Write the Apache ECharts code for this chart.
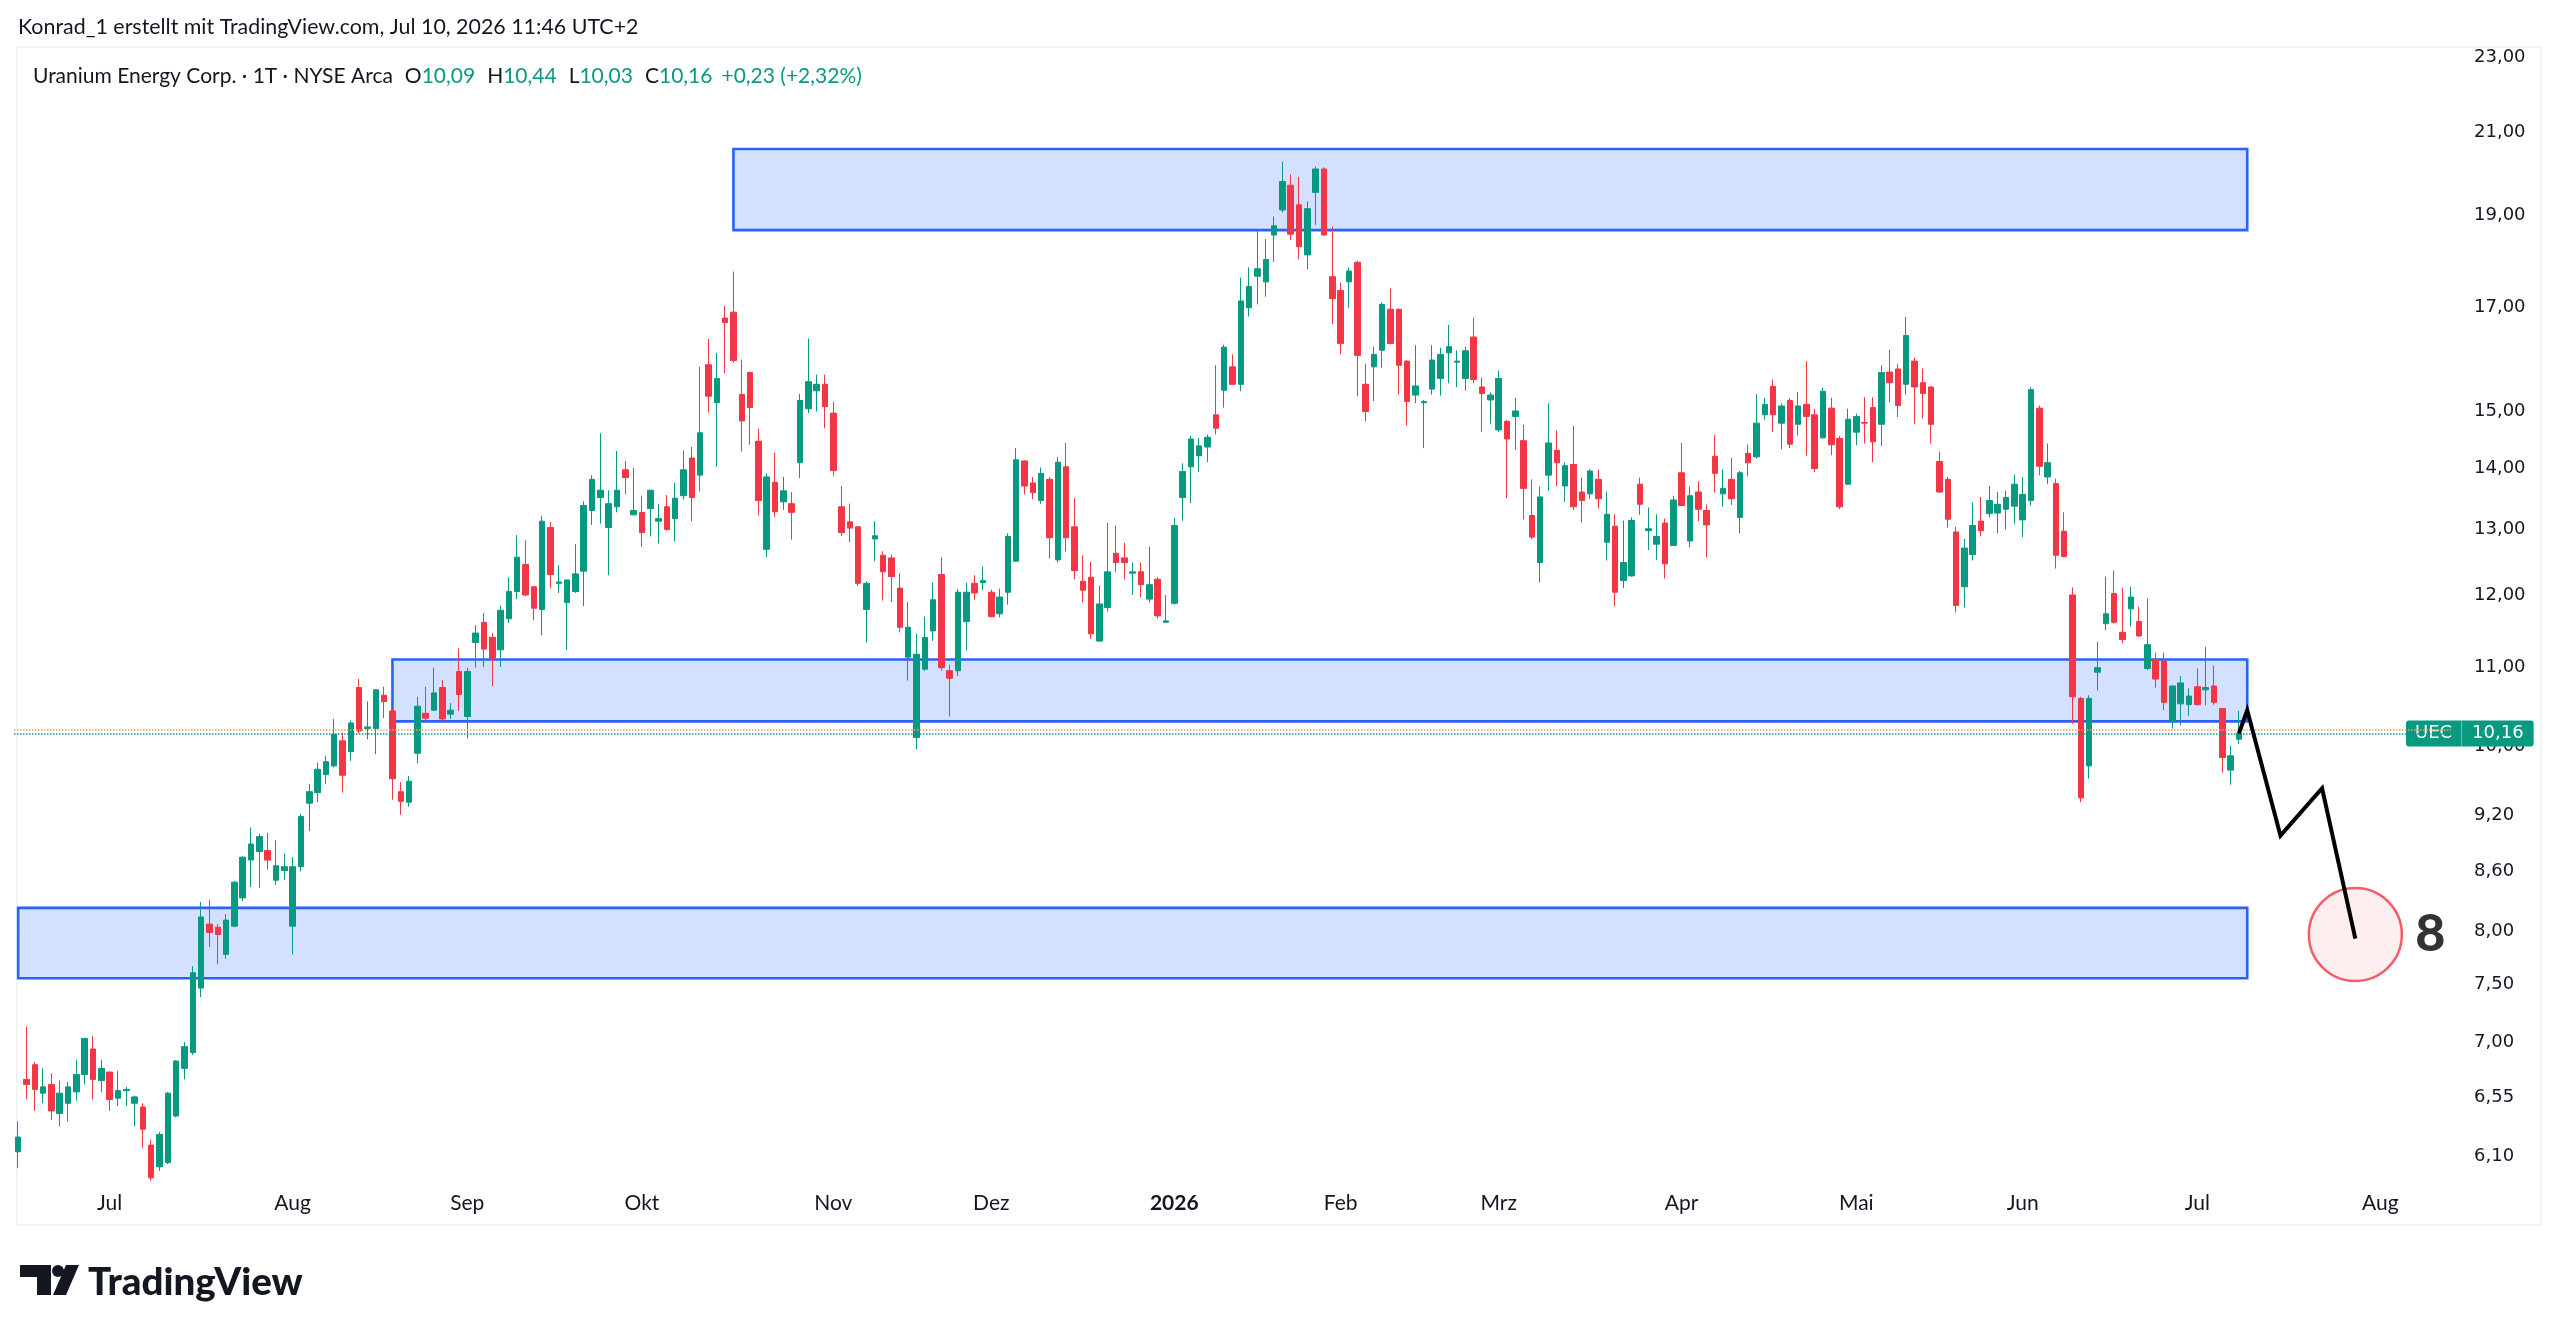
<!DOCTYPE html>
<html>
<head>
<meta charset="utf-8">
<script src="https://cdn.jsdelivr.net/npm/echarts@6/dist/echarts.min.js"></script>
<style>
  html, body { margin: 0; padding: 0; background: #fff; }
  #chart { width: 2560px; height: 1334px; }
</style>
</head>
<body>
<div id="chart"></div>
<script>
// daily candles, each row [open, high, low, close]
const jun25 = [
  [6.13, 6.36, 6.01, 6.24], [6.69, 7.13, 6.53, 6.65], [6.81, 6.83, 6.44, 6.61], [6.58, 6.78, 6.50, 6.63],
  [6.65, 6.74, 6.37, 6.44], [6.42, 6.68, 6.32, 6.58], [6.50, 6.67, 6.36, 6.63], [6.59, 6.85, 6.52, 6.73],
  [6.73, 7.03, 6.65, 7.03], [6.94, 7.05, 6.53, 6.69], [6.68, 6.85, 6.59, 6.78]
]
const jul25 = [
  [6.75, 6.75, 6.44, 6.53], [6.54, 6.76, 6.48, 6.60], [6.60, 6.63, 6.48, 6.61], [6.50, 6.56, 6.32, 6.55],
  [6.47, 6.50, 6.16, 6.30], [6.18, 6.22, 5.92, 5.94], [6.02, 6.28, 5.99, 6.26], [6.05, 6.59, 6.04, 6.58],
  [6.40, 6.85, 6.39, 6.84], [6.78, 7.00, 6.69, 6.96], [6.91, 7.67, 6.89, 7.61], [7.47, 8.29, 7.39, 8.14],
  [8.07, 8.31, 7.85, 7.99], [8.04, 8.07, 7.69, 7.97], [7.78, 8.17, 7.74, 8.11], [8.05, 8.50, 8.04, 8.49],
  [8.33, 8.76, 8.30, 8.75], [8.72, 9.07, 8.44, 8.89], [8.81, 9.00, 8.43, 8.97], [8.82, 9.01, 8.62, 8.72],
  [8.51, 8.93, 8.46, 8.66], [8.61, 8.79, 8.51, 8.65]
]
const aug25 = [
  [8.05, 8.75, 7.78, 8.65], [8.65, 9.22, 8.60, 9.19], [9.34, 9.56, 9.03, 9.47], [9.46, 9.81, 9.35, 9.73],
  [9.67, 9.89, 9.56, 9.82], [9.77, 10.34, 9.75, 10.15], [10.07, 10.17, 9.46, 9.66], [9.94, 10.32, 9.83, 10.29],
  [10.74, 10.85, 10.16, 10.19], [10.22, 10.56, 10.09, 10.24], [10.22, 10.72, 9.91, 10.71], [10.64, 10.75, 10.35, 10.56],
  [10.44, 10.47, 9.38, 9.62], [9.47, 9.58, 9.21, 9.36], [9.35, 9.65, 9.30, 9.59], [9.92, 10.62, 9.80, 10.50],
  [10.41, 10.75, 10.29, 10.35], [10.45, 11.00, 10.44, 10.67], [10.74, 10.84, 10.31, 10.34], [10.40, 10.54, 10.34, 10.45],
  [10.95, 11.26, 10.44, 10.65]
]
const sep25 = [
  [10.37, 11.00, 10.10, 10.95], [11.34, 11.58, 11.00, 11.47], [11.62, 11.75, 11.01, 11.25], [11.41, 11.47, 10.76, 11.13],
  [11.24, 11.86, 11.01, 11.79], [11.67, 12.27, 11.61, 12.06], [12.06, 12.91, 11.95, 12.57], [12.46, 12.83, 11.99, 12.01],
  [12.13, 12.14, 11.65, 11.82], [11.80, 13.21, 11.44, 13.13], [13.03, 13.12, 12.11, 12.31], [12.18, 12.45, 12.04, 12.20],
  [11.90, 12.23, 11.24, 12.23], [12.06, 12.77, 12.04, 12.32], [12.36, 13.45, 11.85, 13.38], [13.30, 13.88, 13.07, 13.81],
  [13.51, 14.60, 13.09, 13.63], [13.03, 13.63, 12.30, 13.41], [13.36, 14.29, 13.27, 13.63], [13.97, 14.12, 13.56, 13.84],
  [13.23, 14.00, 13.23, 13.30]
]
const oct25 = [
  [13.27, 13.54, 12.73, 12.95], [13.33, 13.63, 12.89, 13.63], [13.13, 13.41, 12.78, 13.17], [13.36, 13.55, 12.98, 13.00],
  [13.17, 13.75, 12.81, 13.50], [13.54, 14.30, 13.48, 13.97], [14.17, 14.36, 13.13, 13.51], [13.88, 15.82, 13.61, 14.61],
  [15.86, 16.36, 14.97, 15.27], [15.15, 16.09, 14.02, 15.60], [16.78, 17.03, 15.70, 16.69], [16.90, 17.75, 15.90, 15.94],
  [15.30, 15.96, 14.28, 14.82], [15.71, 15.73, 14.40, 15.06], [14.46, 14.68, 13.22, 13.46], [12.69, 13.91, 12.57, 13.85],
  [13.76, 14.26, 13.20, 13.28], [13.44, 13.85, 13.31, 13.62], [13.41, 13.60, 12.84, 13.27], [14.09, 15.31, 13.83, 15.19],
  [15.04, 16.37, 14.96, 15.54], [15.37, 15.67, 14.99, 15.49], [15.49, 15.67, 14.69, 15.08]
]
const nov25 = [
  [14.96, 15.17, 13.87, 13.96], [13.36, 13.70, 12.90, 12.95], [13.12, 13.41, 12.80, 13.02], [13.04, 13.05, 12.14, 12.18],
  [11.80, 12.21, 11.34, 12.18], [12.85, 13.13, 12.51, 12.90], [12.60, 12.66, 11.93, 12.35], [12.56, 12.61, 11.91, 12.28],
  [12.11, 12.33, 11.48, 11.55], [11.14, 11.91, 10.83, 11.55], [10.11, 11.46, 9.97, 11.18], [10.98, 11.70, 10.96, 11.41],
  [11.50, 12.19, 11.36, 11.94], [12.31, 12.57, 10.96, 11.00], [10.96, 11.04, 10.37, 10.86], [10.96, 12.10, 10.89, 12.05],
  [11.63, 12.19, 11.23, 12.05], [12.18, 12.30, 11.94, 12.04], [12.19, 12.43, 12.08, 12.22]
]
const dec25 = [
  [12.05, 12.09, 11.69, 11.70], [11.74, 12.10, 11.69, 11.98], [12.05, 12.94, 11.87, 12.89], [12.51, 14.34, 12.50, 14.14],
  [14.12, 14.13, 13.56, 13.70], [13.75, 13.85, 13.48, 13.59], [13.46, 14.01, 13.41, 13.91], [13.81, 13.85, 12.55, 12.87],
  [12.53, 14.19, 12.49, 14.10], [14.02, 14.43, 12.66, 12.87], [13.04, 13.50, 12.24, 12.37], [12.21, 12.60, 11.90, 12.08],
  [12.27, 12.50, 11.39, 11.46], [11.36, 12.15, 11.35, 11.88], [11.83, 13.10, 11.77, 12.35], [12.63, 13.06, 12.35, 12.49],
  [12.56, 12.79, 12.24, 12.49], [12.33, 12.49, 12.01, 12.35], [12.35, 12.49, 11.98, 12.16], [11.95, 12.73, 11.90, 12.16],
  [12.24, 12.27, 11.67, 11.71], [11.62, 12.01, 11.62, 11.64]
]
const jan26 = [
  [11.89, 13.18, 11.87, 13.06], [13.51, 14.08, 13.14, 13.94], [14.02, 14.55, 13.42, 14.50], [14.21, 14.52, 13.93, 14.38],
  [14.36, 14.58, 14.10, 14.53], [14.93, 15.85, 14.58, 14.69], [15.38, 16.25, 15.06, 16.20], [15.82, 16.06, 15.48, 15.49],
  [15.49, 17.62, 15.36, 17.13], [16.99, 17.84, 16.81, 17.43], [17.65, 18.64, 17.06, 17.81], [17.53, 18.46, 17.22, 18.01],
  [18.55, 18.97, 17.96, 18.76], [19.12, 20.27, 19.06, 19.79], [19.70, 19.96, 18.44, 18.57], [19.24, 19.90, 18.01, 18.29],
  [18.11, 19.32, 17.80, 19.15], [19.53, 20.15, 18.78, 20.09], [20.09, 20.13, 18.54, 18.55], [17.64, 18.74, 16.66, 17.18]
]
const feb26 = [
  [17.35, 17.51, 16.06, 16.27], [17.53, 17.84, 16.99, 17.76], [17.95, 17.98, 15.27, 16.04], [15.49, 15.88, 14.81, 14.99],
  [15.82, 16.21, 15.18, 16.06], [16.14, 17.10, 15.80, 17.06], [16.96, 17.39, 16.26, 16.27], [16.96, 16.97, 15.30, 15.85],
  [15.93, 15.95, 14.74, 15.17], [15.29, 16.24, 15.14, 15.46], [15.15, 15.20, 14.34, 15.17], [15.40, 16.24, 15.30, 15.95],
  [15.60, 16.19, 15.28, 16.06], [16.09, 16.64, 15.51, 16.21], [15.91, 16.14, 15.44, 15.93], [15.60, 16.21, 15.37, 16.13],
  [16.40, 16.79, 15.51, 15.58], [15.44, 15.62, 14.62, 15.32], [15.20, 15.34, 14.77, 15.29]
]
const mar26 = [
  [14.66, 15.75, 14.62, 15.60], [14.81, 14.84, 13.50, 14.50], [14.90, 15.24, 14.31, 15.00], [14.47, 14.75, 13.16, 13.66],
  [13.22, 13.81, 12.85, 12.88], [12.49, 13.69, 12.19, 13.52], [13.88, 15.14, 13.62, 14.43], [14.30, 14.65, 13.70, 14.09],
  [13.70, 14.09, 13.44, 14.04], [14.06, 14.73, 13.31, 13.36], [13.60, 13.84, 13.11, 13.46], [13.57, 13.98, 13.49, 13.95],
  [13.81, 13.97, 13.33, 13.49], [12.80, 13.61, 12.52, 13.24], [13.05, 13.24, 11.85, 12.05], [12.22, 13.14, 12.11, 12.49],
  [12.29, 13.19, 12.28, 13.14], [13.73, 13.84, 13.23, 13.40], [12.98, 13.35, 12.68, 13.01], [12.77, 13.24, 12.53, 12.89],
  [13.10, 13.17, 12.25, 12.47], [12.75, 13.54, 12.74, 13.47]
]
const apr26 = [
  [13.92, 14.43, 13.37, 13.38], [12.82, 13.69, 12.72, 13.54], [13.60, 13.78, 13.13, 13.32], [13.30, 13.40, 12.57, 13.07],
  [14.20, 14.57, 13.59, 13.91], [13.57, 13.98, 13.36, 13.66], [13.81, 14.17, 13.39, 13.49], [13.19, 13.95, 12.94, 13.92],
  [14.25, 14.40, 13.86, 14.09], [14.19, 15.31, 14.16, 14.78], [14.93, 15.24, 14.84, 15.12], [15.45, 15.58, 14.62, 14.93],
  [14.78, 15.14, 14.32, 15.09], [15.19, 15.23, 14.34, 14.41], [14.76, 15.35, 14.56, 15.09], [15.12, 15.93, 14.21, 14.90],
  [14.93, 15.04, 13.93, 13.99], [14.52, 15.43, 14.51, 15.36], [15.05, 15.24, 14.22, 14.40], [14.51, 14.55, 13.32, 13.36],
  [13.73, 15.04, 13.72, 14.85]
]
const may26 = [
  [14.62, 14.95, 14.39, 14.90], [14.79, 15.25, 14.42, 14.78], [15.06, 15.25, 14.10, 14.45], [14.76, 15.85, 14.38, 15.71],
  [15.72, 16.15, 15.16, 15.52], [15.78, 15.87, 14.89, 15.10], [15.49, 16.80, 15.30, 16.43], [15.93, 15.99, 14.76, 15.44],
  [15.52, 15.79, 14.86, 15.32], [15.44, 15.45, 14.42, 14.76], [14.11, 14.28, 13.59, 13.60], [13.81, 13.85, 13.03, 13.16],
  [12.96, 13.04, 11.76, 11.86], [12.13, 12.85, 11.83, 12.71], [12.61, 13.43, 12.52, 13.06], [13.13, 13.52, 12.89, 12.98],
  [13.25, 13.70, 13.19, 13.46], [13.26, 13.60, 12.94, 13.40], [13.32, 13.62, 13.00, 13.51], [13.37, 13.89, 13.09, 13.73]
]
const jun26 = [
  [13.15, 13.85, 12.88, 13.56], [13.46, 15.44, 13.38, 15.39], [15.05, 15.10, 13.88, 14.03], [13.85, 14.42, 13.73, 14.09],
  [13.74, 13.82, 12.40, 12.60], [12.97, 13.27, 12.57, 12.58], [12.01, 12.12, 10.28, 10.62], [10.60, 10.62, 9.35, 9.40],
  [9.77, 10.64, 9.62, 10.60], [10.94, 11.35, 10.70, 11.00], [11.60, 12.28, 11.51, 11.74], [12.03, 12.37, 11.60, 11.62],
  [11.48, 12.11, 11.33, 11.38], [11.81, 12.13, 11.56, 11.98], [11.63, 11.84, 11.42, 11.43], [10.99, 11.96, 10.97, 11.31],
  [11.11, 11.20, 10.74, 10.85], [11.09, 11.20, 10.45, 10.55], [10.32, 10.76, 10.22, 10.76], [10.53, 10.89, 10.26, 10.80],
  [10.52, 10.73, 10.38, 10.63]
]
const jul26 = [
  [10.75, 10.99, 10.51, 10.52], [10.71, 11.28, 10.51, 10.74], [10.76, 11.03, 10.52, 10.55], [10.47, 10.47, 9.69, 9.87],
  [9.72, 10.01, 9.55, 9.89], [10.09, 10.44, 10.03, 10.16]
]

// price scale labels
const priceTicks = [23, 21, 19, 17, 15, 14, 13, 12, 11, 10, 9.2, 8.6, 8, 7.5, 7, 6.55, 6.1]
const lastClose = 10.16
const prevLine = 10.20

// drawn zones: from date, to date, upper price, lower price
const zoneFrom = ['2025-10-16', '2025-08-19', '2025-06-13']
const zoneTo = ['2026-07-10', '2026-07-10', '2026-07-10']
const zoneHigh = [20.58, 11.11, 8.23]
const zoneLow = [18.66, 10.31, 7.56]

// projected path and target
const pathDates = ['2026-07-09', '2026-07-10', '2026-07-16', '2026-07-23', '2026-07-29']
const pathPrices = [10.16, 10.45, 8.98, 9.51, 7.93]
const targetDate = '2026-07-29'
const targetPrice = 7.97
const targetLabelDate = '2026-08-11'
const targetLabel = '8'

const holidays = ['2025-06-19', '2025-07-04', '2025-09-01', '2025-11-27', '2025-12-25', '2026-01-01',
  '2026-01-19', '2026-02-16', '2026-04-03', '2026-05-25', '2026-06-19', '2026-07-03']
const monthNames = ['Jan', 'Feb', 'Mrz', 'Apr', 'Mai', 'Jun', 'Jul', 'Aug', 'Sep', 'Okt', 'Nov', 'Dez']

const tradingDays = (from, to) => {
  const out = []
  const d = new Date(from + 'T00:00:00Z')
  const end = new Date(to + 'T00:00:00Z')
  while (d <= end) {
    const s = d.toISOString().slice(0, 10)
    const wd = d.getUTCDay()
    if (wd !== 0 && wd !== 6 && !holidays.includes(s)) out.push(s)
    d.setUTCDate(d.getUTCDate() + 1)
  }
  return out
}
const dates = tradingDays('2025-06-13', '2026-08-13')

const ohlc = [].concat(jun25, jul25, aug25, sep25, oct25, nov25, dec25, jan26, feb26, mar26, apr26, may26, jun26, jul26)
const candleData = ohlc.map(([o, h, l, c]) => [o, c, l, h])

const upColor = '#089981'
const downColor = '#F23645'
const textColor = '#131722'
const fmt = (v) => v.toFixed(2).replace('.', ',')

const isMonthStart = (i) => i > 0 && dates[i].slice(0, 7) !== dates[i - 1].slice(0, 7)

const zones = zoneFrom.map((d, i) => [
  { coord: [d, zoneHigh[i]] },
  { coord: [zoneTo[i], zoneLow[i]] }
])

const legendFont = { fontFamily: 'Lato', fontSize: 21, fontWeight: 'normal' }

const chart = echarts.init(document.getElementById('chart'))
const option = {
  animation: false,
  backgroundColor: '#ffffff',
  title: [
    {
      text: 'Konrad_1 erstellt mit TradingView.com, Jul 10, 2026 11:46 UTC+2',
      left: 18,
      top: 17,
      padding: 0,
      textStyle: { fontFamily: 'Lato', fontSize: 21.4, fontWeight: 'normal', color: textColor }
    },
    {
      text: '{n|Uranium Energy Corp. · 1T · NYSE Arca}{k|O}{v|' + fmt(jul26[5][0]) + '}{k|H}{v|' + fmt(jul26[5][1]) +
        '}{k|L}{v|' + fmt(jul26[5][2]) + '}{k|C}{v|' + fmt(jul26[5][3]) + '}{g|+0,23 (+2,32%)}',
      left: 33,
      top: 66,
      padding: 0,
      textStyle: {
        fontWeight: 'normal',
        rich: {
          n: { ...legendFont, color: textColor },
          k: { ...legendFont, color: textColor, padding: [0, 0, 0, 12] },
          v: { ...legendFont, color: upColor },
          g: { ...legendFont, color: upColor, padding: [0, 0, 0, 9] }
        }
      }
    }
  ],
  graphic: [
    {
      type: 'rect', silent: true, z: -10,
      shape: { x: 17, y: 47, width: 2524, height: 1178 },
      style: { fill: 'none', stroke: '#E6E9F0', lineWidth: 1 }
    },
    { type: 'rect', shape: { x: 20, y: 1265, width: 31, height: 12 }, style: { fill: textColor } },
    { type: 'rect', shape: { x: 37, y: 1265, width: 14, height: 30 }, style: { fill: textColor } },
    { type: 'circle', shape: { cx: 58, cy: 1271, r: 6 }, style: { fill: textColor } },
    { type: 'polygon', shape: { points: [[66, 1265], [79, 1265], [66, 1295], [53, 1295]] }, style: { fill: textColor } },
    {
      type: 'text', x: 88, y: 1283,
      style: { text: 'TradingView', fontFamily: 'Lato', fontSize: 38.5, fontWeight: 900, fill: textColor, verticalAlign: 'middle' }
    }
  ],
  grid: { left: 14, right: 109, top: 47, height: 1138 },
  xAxis: {
    type: 'category',
    data: dates,
    boundaryGap: true,
    axisLine: { show: false },
    axisTick: { show: false },
    splitLine: { show: false },
    axisLabel: {
      interval: (i) => isMonthStart(i),
      formatter: (v) => {
        const m = +v.slice(5, 7)
        return m === 1 ? '{y|' + v.slice(0, 4) + '}' : monthNames[m - 1]
      },
      margin: 8,
      fontFamily: 'Lato',
      fontSize: 21,
      color: textColor,
      rich: { y: { fontFamily: 'Lato', fontSize: 21, fontWeight: 'bold', color: textColor } }
    }
  },
  yAxis: [
    {
      type: 'log',
      position: 'right',
      min: 5.889,
      max: 23.28,
      axisLine: { show: false },
      axisTick: { show: false },
      splitLine: { show: false },
      axisLabel: {
        customValues: priceTicks,
        formatter: (v) => fmt(v),
        margin: 23,
        padding: [6, 0, 0, 0],
        fontFamily: 'DejaVu Sans',
        fontSize: 18,
        color: textColor
      }
    },
    {
      type: 'log',
      position: 'right',
      min: 5.889,
      max: 23.28,
      axisLine: { show: false },
      axisTick: { show: false },
      splitLine: { show: false },
      axisLabel: {
        customValues: [lastClose],
        formatter: () => '{a|UEC}{s|}{b|' + fmt(lastClose) + '}',
        margin: -45,
        backgroundColor: upColor,
        borderRadius: 3,
        padding: [0, 0],
        rich: {
          a: { fontFamily: 'DejaVu Sans', fontSize: 18, color: '#fff', padding: [4, 9, 4, 9] },
          s: { width: 1, height: 26, backgroundColor: 'rgba(255,255,255,0.45)' },
          b: { fontFamily: 'DejaVu Sans', fontSize: 18, color: '#fff', padding: [4, 10, 4, 10] }
        }
      }
    }
  ],
  series: [
    {
      name: 'zones',
      type: 'line',
      data: [],
      z: 1,
      markArea: {
        silent: true,
        itemStyle: { color: 'rgba(41,98,255,0.2)', borderColor: '#2962FF', borderWidth: 2.6 },
        data: zones
      },
      markLine: {
        silent: true,
        symbol: 'none',
        label: { show: false },
        data: [
          { yAxis: prevLine, lineStyle: { color: '#F7A55A', type: 'dotted', width: 1.5 } },
          { yAxis: lastClose, lineStyle: { color: upColor, type: 'dotted', width: 1.5 } }
        ]
      }
    },
    {
      name: 'UEC',
      type: 'candlestick',
      data: candleData,
      barWidth: 6,
      z: 3,
      itemStyle: {
        color: upColor,
        color0: downColor,
        borderColor: upColor,
        borderColor0: downColor,
        borderWidth: 1
      }
    },
    {
      name: 'target',
      type: 'scatter',
      data: [[targetDate, targetPrice]],
      symbolSize: 93,
      z: 4,
      itemStyle: { color: 'rgba(242,54,69,0.1)', borderColor: downColor, borderWidth: 2.5 }
    },
    {
      name: 'path',
      type: 'line',
      data: pathDates.map((d, i) => [d, pathPrices[i]]),
      symbol: 'none',
      z: 5,
      lineStyle: { color: '#000', width: 4, join: 'miter' }
    },
    {
      name: 'targetLabel',
      type: 'scatter',
      data: [[targetLabelDate, targetPrice]],
      symbolSize: 1,
      itemStyle: { color: 'rgba(0,0,0,0)' },
      z: 6,
      label: {
        show: true,
        position: 'inside',
        formatter: targetLabel,
        fontFamily: 'Lato',
        fontSize: 52,
        fontWeight: 900,
        color: '#000'
      }
    }
  ]
}
chart.setOption(option)
</script>
</body>
</html>
